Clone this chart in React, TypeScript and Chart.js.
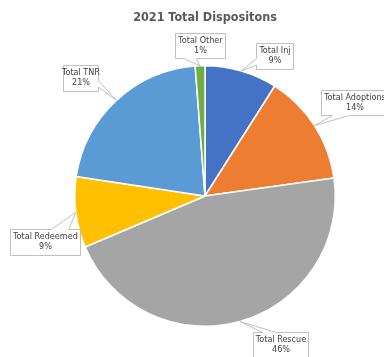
import React, { useEffect, useRef } from 'react';
import { Chart, registerables } from 'chart.js';

Chart.register(...registerables);

const chartTitle = '2021 Total Dispositons';
const categories = ['Total Inj', 'Total Adoptions', 'Total Rescue', 'Total Redeemed', 'Total TNR', 'Total Other'];
const values = [9.0, 13.8, 45.8, 8.8, 21.4, 1.2];
const sliceColors = ['#4472C4', '#ED7D31', '#A5A5A5', '#FFC000', '#5B9BD5', '#70AD47'];
// callout boxes: left, top, width, height
const calloutBoxes = [
  [256, 43, 37, 26],
  [321, 90, 67, 25],
  [253, 332, 55, 26],
  [10, 229, 70, 26],
  [63, 65, 35, 26],
  [175, 33, 50, 25],
];

const FONT_FAMILY = "'Liberation Sans Narrow', 'DejaVu Sans Condensed', Lato, sans-serif";

function calloutPath(ctx: CanvasRenderingContext2D, l: number, t: number, w: number, h: number, tx: number, ty: number) {
  const r = l + w, b = t + h, hc = l + w / 2, vc = t + h / 2;
  const dxPos = tx - hc, dyPos = ty - vc;
  const dq = (dxPos * h) / w;
  const dz = Math.abs(dyPos) - Math.abs(dq);
  const xg1 = dxPos > 0 ? 7 : 2, xg2 = dxPos > 0 ? 10 : 5;
  const yg1 = dyPos > 0 ? 7 : 2, yg2 = dyPos > 0 ? 10 : 5;
  const x1 = l + (w * xg1) / 12, x2 = l + (w * xg2) / 12;
  const y1 = t + (h * yg1) / 12, y2 = t + (h * yg2) / 12;
  ctx.beginPath();
  ctx.moveTo(l, t);
  if (dz > 0 && dyPos < 0) { ctx.lineTo(x1, t); ctx.lineTo(tx, ty); ctx.lineTo(x2, t); }
  ctx.lineTo(r, t);
  if (dz <= 0 && dxPos > 0) { ctx.lineTo(r, y1); ctx.lineTo(tx, ty); ctx.lineTo(r, y2); }
  ctx.lineTo(r, b);
  if (dz > 0 && dyPos > 0) { ctx.lineTo(x2, b); ctx.lineTo(tx, ty); ctx.lineTo(x1, b); }
  ctx.lineTo(l, b);
  if (dz <= 0 && dxPos < 0) { ctx.lineTo(l, y2); ctx.lineTo(tx, ty); ctx.lineTo(l, y1); }
  ctx.closePath();
}

const calloutPlugin = {
  id: 'callouts',
  afterDraw(chart: any) {
    const ctx: CanvasRenderingContext2D = chart.ctx;
    const meta = chart.getDatasetMeta(0);
    const data: number[] = chart.data.datasets[0].data;
    const total = data.reduce((a, b) => a + b, 0);
    ctx.save();
    // title
    ctx.fillStyle = '#595959';
    ctx.font = `bold 12.5px ${FONT_FAMILY}`;
    ctx.textAlign = 'center';
    ctx.textBaseline = 'middle';
    ctx.fillText(chartTitle, 205, 18);

    meta.data.forEach((arc: any, i: number) => {
      const p = arc.getProps(['x', 'y', 'startAngle', 'endAngle', 'outerRadius'], true);
      const mid = (p.startAngle + p.endAngle) / 2;
      const tx = p.x + Math.cos(mid) * p.outerRadius;
      const ty = p.y + Math.sin(mid) * p.outerRadius;
      const [l, t, w, h] = calloutBoxes[i];
      calloutPath(ctx, l + 0.5, t + 0.5, w, h, tx, ty);
      ctx.fillStyle = '#FFFFFF';
      ctx.fill();
      ctx.strokeStyle = '#BFBFBF';
      ctx.lineWidth = 1;
      ctx.stroke();
      ctx.fillStyle = '#404040';
      ctx.font = `9px ${FONT_FAMILY}`;
      ctx.textAlign = 'center';
      ctx.textBaseline = 'middle';
      const cx = l + w / 2 + 0.5;
      ctx.fillText(String(chart.data.labels[i]), cx, t + 7.5);
      ctx.fillText(Math.round((data[i] / total) * 100) + '%', cx, t + 18);
    });
    ctx.restore();
  },
};

export default function App() {
  const canvasRef = useRef<HTMLCanvasElement | null>(null);
  useEffect(() => {
    document.body.style.margin = '0';
    const canvas = canvasRef.current;
    if (!canvas) return;
    const chart = new Chart(canvas, {
      type: 'pie',
      data: {
        labels: categories,
        datasets: [
          {
            data: values,
            backgroundColor: sliceColors,
            borderColor: '#FFFFFF',
            borderWidth: 1.5,
          },
        ],
      },
      options: {
        responsive: false,
        maintainAspectRatio: false,
        animation: false,
        layout: { padding: { left: 74, right: 48, top: 65, bottom: 30 } },
        plugins: {
          legend: { display: false },
          tooltip: { enabled: false },
          title: { display: false },
        },
      },
      plugins: [calloutPlugin],
    });
    return () => chart.destroy();
  }, []);
  return (
    <div style={{ width: 384, height: 357, background: '#FFFFFF' }}>
      <canvas ref={canvasRef} width={384} height={357} style={{ display: 'block' }} />
    </div>
  );
}
